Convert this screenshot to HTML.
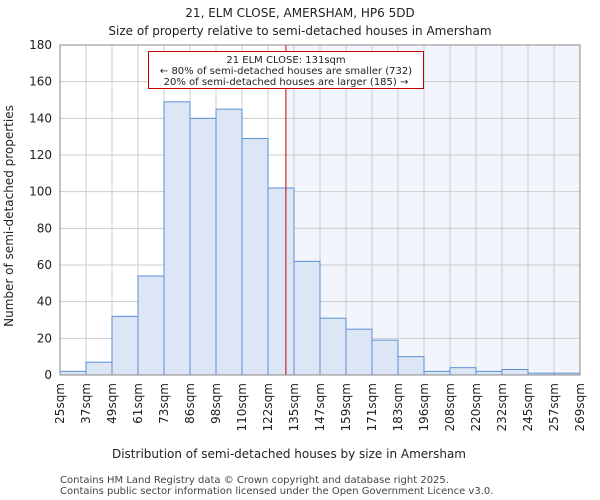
<!DOCTYPE html>
<html><head><meta charset="utf-8"><style>body{margin:0;background:#fff}svg{display:block;font-family:"DejaVu Sans","Liberation Sans",sans-serif}</style></head>
<body>
<svg width="600" height="500" id="c">
<text x="300" y="17" text-anchor="middle" font-size="12" fill="#222">21, ELM CLOSE, AMERSHAM, HP6 5DD</text>
<text x="300" y="35" text-anchor="middle" font-size="12" fill="#222">Size of property relative to semi-detached houses in Amersham</text>
<text x="289" y="458" text-anchor="middle" font-size="12" fill="#222">Distribution of semi-detached houses by size in Amersham</text>
<text transform="translate(13,216) rotate(-90)" text-anchor="middle" font-size="12" fill="#222">Number of semi-detached properties</text>
<text x="60" y="483" font-size="10" fill="#444">Contains HM Land Registry data © Crown copyright and database right 2025.</text>
<text x="60" y="494" font-size="10" fill="#444">Contains public sector information licensed under the Open Government Licence v3.0.</text>
<g id="plot"></g>
</svg>
<script>
const categories=["25sqm","37sqm","49sqm","61sqm","73sqm","86sqm","98sqm","110sqm","122sqm","135sqm","147sqm","159sqm","171sqm","183sqm","196sqm","208sqm","220sqm","232sqm","245sqm","257sqm","269sqm"];
const counts=[2,7,32,54,149,140,145,129,102,62,31,25,19,10,2,4,2,3,1,1];
const yTicks=[0,20,40,60,80,100,120,140,160,180];
const subjectSize=131;
const binStarts=[25,37.2,49.4,61.6,73.8,86,98.2,110.4,122.6,134.8,147,159.2,171.4,183.6,195.8,208,220.2,232.4,244.6,256.8,269];
const X0=60,X1=580,Y0=375,Y1=45,YMAX=180;
const NS="http://www.w3.org/2000/svg";
const g=document.getElementById('plot');
const bw=(X1-X0)/counts.length;
function xi(i){return X0+i*bw;}
function y(v){return Y0-(v/YMAX)*(Y0-Y1);}
function xv(v){for(let i=0;i<binStarts.length-1;i++){if(v<=binStarts[i+1])return xi(i)+(v-binStarts[i])/(binStarts[i+1]-binStarts[i])*bw;}return X1;}
function mk(t,a){const e=document.createElementNS(NS,t);for(const k in a)e.setAttribute(k,a[k]);g.appendChild(e);return e;}
const sx=xv(subjectSize);
let e=mk('rect',{x:sx,y:Y1,width:X1-sx,height:Y0-Y1,fill:'#f3f5fc'});


for(let i=0;i<categories.length;i++){const l=mk('line',{x1:xi(i),x2:xi(i),y1:Y1,y2:Y0,stroke:'#ccc','stroke-width':1});

}
yTicks.forEach(v=>{const l=mk('line',{x1:X0,x2:X1,y1:y(v),y2:y(v),stroke:'#ccc','stroke-width':1});


const t=mk('text',{x:X0-8,y:y(v)+4,'text-anchor':'end','font-size':12,fill:'#222'});t.textContent=v;

});
counts.forEach((c,i)=>{const r=mk('rect',{x:xi(i),y:y(c),width:bw,height:Y0-y(c),fill:'#dce6f5',stroke:'#5b8fd6','stroke-width':1});

});
categories.forEach((c,i)=>{const t=mk('text',{transform:`translate(${xi(i)+4},383) rotate(-90)`,'text-anchor':'end','font-size':12,fill:'#222'});t.textContent=c;

});
e=mk('line',{x1:sx,x2:sx,y1:Y1,y2:Y0,stroke:'#cc0000','stroke-width':1});


e=mk('rect',{x:148.5,y:51.5,width:275,height:37,fill:'#fff',stroke:'#cc0000','stroke-width':1});


[["21 ELM CLOSE: 131sqm",63],["← 80% of semi-detached houses are smaller (732)",74],["20% of semi-detached houses are larger (185) →",85]].forEach(([s,yy])=>{const t=mk('text',{x:286,y:yy,'text-anchor':'middle','font-size':10,fill:'#222'});t.textContent=s;

});
e=mk('rect',{x:X0,y:Y1,width:X1-X0,height:Y0-Y1,fill:'none',stroke:'#888','stroke-width':1});


</script>
</body></html>
